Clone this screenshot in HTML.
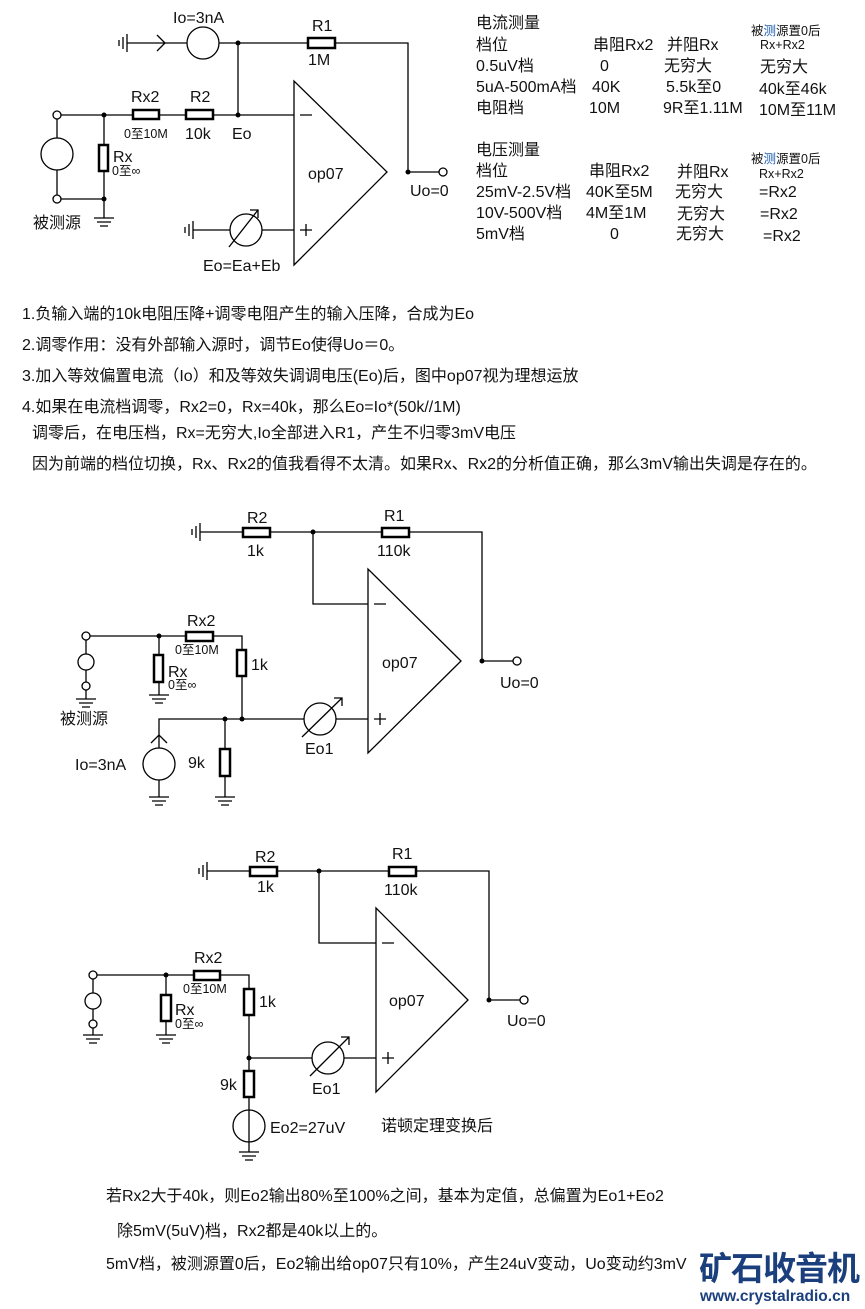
<!DOCTYPE html>
<html><head><meta charset="utf-8"><style>
body{margin:0;background:#fff}
svg{display:block}
text{font-family:"Liberation Sans","Noto Sans CJK SC",sans-serif;fill:#111}
.s{font-size:12.5px}
.m{font-size:16px}
</style></head><body>
<svg width="865" height="1309" viewBox="0 0 865 1309" xmlns="http://www.w3.org/2000/svg">
<g stroke="#000" stroke-width="1.3" fill="none">
<path d="M127 43H187M219 43H308M335 43H408V172H439"/>
<path d="M127 34v18M123 37v12M119 40v6"/>
<path d="M157 35l8 8-8 8"/>
<circle cx="203" cy="43" r="16"/>
<path d="M238 43V115"/>
<path d="M294 81V265L387 172Z"/>
<path d="M61 115H133M159 115H186M213 115H294"/>
<path d="M300 115h12M300 230h12M306 224v12"/>
<circle cx="57" cy="115" r="4"/><circle cx="57" cy="199" r="4"/>
<path d="M57 119V138M57 170V195"/>
<circle cx="57" cy="154" r="16"/>
<path d="M104 115V145M104 171V218M61 199H104"/>
<path d="M94 218h20M97 222h14M100 226h8"/>
<path d="M193 230H230M262 230H294M193 221v18M189 224v12M185 227v6"/>
<circle cx="246" cy="230" r="16"/>
<path d="M229 247L258 210M250 210h8v8"/>
<circle cx="443" cy="172" r="4"/>
<path d="M200 532H243M270 532H382M409 532H482V661H513"/>
<path d="M200 523v18M196 526v12M192 529v6"/>
<path d="M313 532V604H368"/>
<path d="M368 569V753L461 661Z"/>
<path d="M374 604h12M374 719h12M380 713v12"/>
<circle cx="517" cy="661" r="4"/>
<circle cx="86" cy="636" r="4"/>
<path d="M90 636H186M213 636H242V650M242 676V719"/>
<path d="M86 640V654M86 670V682M86 690V699"/>
<circle cx="86" cy="662" r="8"/><circle cx="86" cy="686" r="4"/>
<path d="M76 699h20M79 703h14M82 707h8"/>
<path d="M159 636V655M159 682V695M149 695h20M152 699h14M155 703h8"/>
<path d="M159 748V719H304M336 719H368"/>
<path d="M151 743l8-8 8 8"/>
<circle cx="159" cy="764" r="16"/>
<path d="M159 780V797M149 797h20M152 801h14M155 805h8"/>
<path d="M225 719V749M225 776V797M215 797h20M218 801h14M221 805h8"/>
<circle cx="320" cy="719" r="16"/>
<path d="M302 737L342 698M334 698h8v8"/>
<path d="M207 871H250M277 871H389M416 871H489V1000H520"/>
<path d="M207 862v18M203 865v12M199 868v6"/>
<path d="M319 871V943H376"/>
<path d="M376 908V1092L468 1000Z"/>
<path d="M382 943h12M382 1058h12M388 1052v12"/>
<circle cx="524" cy="1000" r="4"/>
<circle cx="93" cy="975" r="4"/>
<path d="M97 975H194M220 975H249V989M249 1015V1071M249 1097V1152"/>
<path d="M93 979V993M93 1009V1020M93 1028V1035"/>
<circle cx="93" cy="1001" r="8"/><circle cx="93" cy="1024" r="4"/>
<path d="M83 1035h20M86 1039h14M89 1043h8"/>
<path d="M166 975V995M166 1021V1035M156 1035h20M159 1039h14M162 1043h8"/>
<path d="M249 1058H312M344 1058H376"/>
<circle cx="328" cy="1058" r="16"/>
<path d="M310 1076L349 1037M341 1037h8v8"/>
<circle cx="249" cy="1126" r="16"/>
<path d="M239 1152h20M242 1156h14M245 1160h8"/>
</g>
<g stroke="#000" stroke-width="2.5" fill="#fff">
<rect x="308" y="38" width="27" height="10"/>
<rect x="133" y="110" width="26" height="9"/>
<rect x="186" y="110" width="27" height="9"/>
<rect x="99" y="145" width="9" height="26"/>
<rect x="243" y="528" width="27" height="9"/>
<rect x="382" y="528" width="27" height="9"/>
<rect x="186" y="632" width="27" height="9"/>
<rect x="237" y="650" width="9" height="26"/>
<rect x="154" y="655" width="9" height="27"/>
<rect x="220" y="749" width="10" height="27"/>
<rect x="250" y="867" width="27" height="9"/>
<rect x="389" y="867" width="27" height="9"/>
<rect x="194" y="971" width="26" height="9"/>
<rect x="244" y="989" width="10" height="26"/>
<rect x="161" y="995" width="10" height="26"/>
<rect x="244" y="1071" width="10" height="26"/>
</g>
<g fill="#000">
<circle cx="238" cy="43" r="2.5"/><circle cx="238" cy="115" r="2.5"/><circle cx="104" cy="115" r="2.5"/><circle cx="104" cy="199" r="2.5"/><circle cx="408" cy="172" r="2.5"/>
<circle cx="313" cy="532" r="2.5"/><circle cx="482" cy="661" r="2.5"/><circle cx="159" cy="636" r="2.5"/><circle cx="225" cy="719" r="2.5"/><circle cx="242" cy="719" r="2.5"/>
<circle cx="319" cy="871" r="2.5"/><circle cx="489" cy="1000" r="2.5"/><circle cx="166" cy="975" r="2.5"/><circle cx="249" cy="1058" r="2.5"/>
</g>
<g class="m">
<text x="173" y="23">Io=3nA</text>
<text x="312" y="31">R1</text>
<text x="308" y="65">1M</text>
<text x="131" y="102">Rx2</text>
<text x="190" y="102">R2</text>
<text x="185" y="139">10k</text>
<text x="232" y="139">Eo</text>
<text x="113" y="162">Rx</text>
<text x="33" y="228">被测源</text>
<text x="308" y="179">op07</text>
<text x="410" y="196">Uo=0</text>
<text x="203" y="271">Eo=Ea+Eb</text>
</g>
<g class="s">
<text x="124" y="138">0至10M</text>
<text x="112" y="175">0至∞</text>
</g>
<g class="m">
<text x="476" y="28">电流测量</text>
<text x="476" y="50">档位</text><text x="593" y="50">串阻Rx2</text><text x="667" y="50">并阻Rx</text>
<text x="476" y="71">0.5uV档</text><text x="600" y="71">0</text><text x="664" y="71">无穷大</text><text x="760" y="72">无穷大</text>
<text x="476" y="92">5uA-500mA档</text><text x="592" y="92">40K</text><text x="666" y="92">5.5k至0</text><text x="759" y="94">40k至46k</text>
<text x="476" y="113">电阻档</text><text x="589" y="113">10M</text><text x="663" y="113">9R至1.11M</text><text x="759" y="115">10M至11M</text>
<text x="476" y="155">电压测量</text>
<text x="476" y="176">档位</text><text x="589" y="176">串阻Rx2</text><text x="677" y="177">并阻Rx</text>
<text x="476" y="197">25mV-2.5V档</text><text x="586" y="197">40K至5M</text><text x="675" y="197">无穷大</text><text x="759" y="197">=Rx2</text>
<text x="476" y="218">10V-500V档</text><text x="586" y="218">4M至1M</text><text x="677" y="219">无穷大</text><text x="760" y="219">=Rx2</text>
<text x="476" y="239">5mV档</text><text x="610" y="239">0</text><text x="676" y="239">无穷大</text><text x="763" y="241">=Rx2</text>
</g>
<g class="s">
<text x="751" y="35">被<tspan fill="#1a5fb4">测</tspan>源置0后</text><text x="760" y="49">Rx+Rx2</text>
<text x="751" y="163">被<tspan fill="#1a5fb4">测</tspan>源置0后</text><text x="759" y="178">Rx+Rx2</text>
</g>
<g class="m">
<text x="22" y="319">1.负输入端的10k电阻压降+调零电阻产生的输入压降，合成为Eo</text>
<text x="22" y="350">2.调零作用：没有外部输入源时，调节Eo使得Uo＝0。</text>
<text x="22" y="381">3.加入等效偏置电流（Io）和及等效失调调电压(Eo)后，图中op07视为理想运放</text>
<text x="22" y="412">4.如果在电流档调零，Rx2=0，Rx=40k，那么Eo=Io*(50k//1M)</text>
<text x="32" y="438">调零后，在电压档，Rx=无穷大,Io全部进入R1，产生不归零3mV电压</text>
<text x="32" y="469">因为前端的档位切换，Rx、Rx2的值我看得不太清。如果Rx、Rx2的分析值正确，那么3mV输出失调是存在的。</text>
</g>
<g class="m">
<text x="247" y="523">R2</text><text x="247" y="556">1k</text>
<text x="384" y="521">R1</text><text x="377" y="556">110k</text>
<text x="382" y="668">op07</text><text x="500" y="688">Uo=0</text>
<text x="187" y="626">Rx2</text><text x="251" y="670">1k</text>
<text x="168" y="677">Rx</text>
<text x="60" y="724">被测源</text>
<text x="75" y="770">Io=3nA</text><text x="188" y="768">9k</text>
<text x="305" y="754">Eo1</text>
</g>
<g class="s"><text x="175" y="654">0至10M</text><text x="168" y="689">0至∞</text></g>
<g class="m">
<text x="255" y="862">R2</text><text x="257" y="892">1k</text>
<text x="392" y="859">R1</text><text x="384" y="895">110k</text>
<text x="389" y="1006">op07</text><text x="507" y="1026">Uo=0</text>
<text x="194" y="963">Rx2</text><text x="259" y="1007">1k</text>
<text x="175" y="1015">Rx</text>
<text x="220" y="1090">9k</text>
<text x="312" y="1094">Eo1</text>
<text x="270" y="1133">Eo2=27uV</text>
<text x="381" y="1131">诺顿定理变换后</text>
</g>
<g class="s"><text x="183" y="993">0至10M</text><text x="175" y="1028">0至∞</text></g>
<g class="m">
<text x="106" y="1201">若Rx2大于40k，则Eo2输出80%至100%之间，基本为定值，总偏置为Eo1+Eo2</text>
<text x="117" y="1236">除5mV(5uV)档，Rx2都是40k以上的。</text>
<text x="106" y="1269">5mV档，被测源置0后，Eo2输出给op07只有10%，产生24uV变动，Uo变动约3mV</text>
</g>
<text x="699" y="1280" style="font-size:33px;font-weight:bold;fill:#1b3f7c;letter-spacing:-1px">矿石收音机</text>
<text x="700" y="1301" style="font-size:15.5px;font-weight:bold;fill:#1b3f7c">www.crystalradio.cn</text>
</svg>
</body></html>
